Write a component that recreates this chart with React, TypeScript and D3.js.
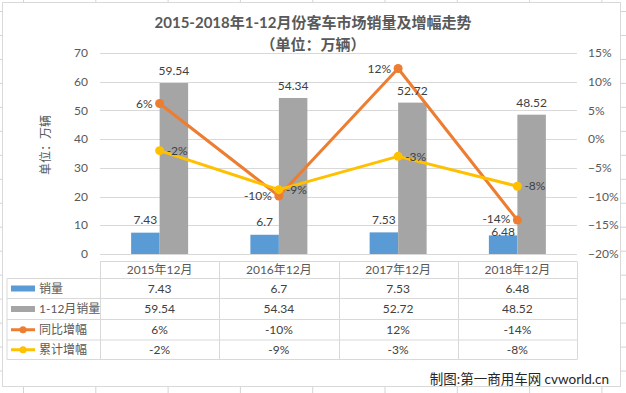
import React, { useRef, useEffect } from 'react';
import * as d3 from 'd3';

// chart data
const categories = ['2015年12月', '2016年12月', '2017年12月', '2018年12月'];
const monthSales = [7.43, 6.7, 7.53, 6.48];
const yearSales = [59.54, 54.34, 52.72, 48.52];
const yoyGrowth = [0.062, -0.099, 0.123, -0.141];
const cumGrowth = [-0.02, -0.088, -0.03, -0.082];
const yoyLabels = ['6%', '-10%', '12%', '-14%'];
const cumLabels = ['-2%', '-9%', '-3%', '-8%'];
const leftTicks = [0, 10, 20, 30, 40, 50, 60, 70];
const rightTicks = [-0.2, -0.15, -0.1, -0.05, 0, 0.05, 0.1, 0.15];
const seriesNames = ['销量', '1-12月销量', '同比增幅', '累计增幅'];

const W = 626;
const H = 393;
const FONT = "Lato, 'Noto Sans CJK SC', sans-serif";

const App = () => {
    const svgRef = useRef<SVGSVGElement>(null);

    useEffect(() => {
        if (!svgRef.current) return;
        const svg = d3.select(svgRef.current);
        svg.selectAll('*').remove();

        // spreadsheet grid behind the chart object
        const bg = svg.append('g');
        bg.append('rect').attr('width', W).attr('height', H).attr('fill', '#fff');
        for (let x = 23.5; x < W; x += 72.3) {
            bg.append('line').attr('x1', x).attr('x2', x).attr('y1', 0).attr('y2', H)
                .attr('stroke', '#d4d4d4');
        }
        for (let y = 11.5; y < H; y += 23.97) {
            bg.append('line').attr('x1', 0).attr('x2', W).attr('y1', y).attr('y2', y)
                .attr('stroke', '#d4d4d4');
        }

        // chart box
        svg.append('rect')
            .attr('x', 2.5).attr('y', 2.5)
            .attr('width', 618).attr('height', 384)
            .attr('fill', '#fff').attr('stroke', '#d9d9d9');

        const g = svg.append('g').style('font-family', FONT);

        // Scales
        const x = d3.scaleBand<string>().domain(categories).range([100, 577]);
        const yL = d3.scaleLinear().domain([0, 70]).range([254, 53]);
        const yR = d3.scaleLinear().domain([-0.2, 0.15]).range([254, 53]);
        const cx = (c: string) => (x(c) as number) + x.bandwidth() / 2;
        const barW = 28.5;

        // title
        g.append('text')
            .attr('x', 313).attr('y', 28)
            .attr('text-anchor', 'middle')
            .attr('font-size', 15).attr('font-weight', 'bold').attr('fill', '#595959')
            .text('2015-2018年1-12月份客车市场销量及增幅走势');
        g.append('text')
            .attr('x', 313).attr('y', 50)
            .attr('text-anchor', 'middle')
            .attr('font-size', 15).attr('font-weight', 'bold').attr('fill', '#595959')
            .text('（单位：万辆）');

        // gridlines
        g.selectAll('.grid')
            .data(leftTicks)
            .enter()
            .append('line')
            .attr('x1', 100).attr('x2', 577)
            .attr('y1', d => Math.round(yL(d)) + 0.5)
            .attr('y2', d => Math.round(yL(d)) + 0.5)
            .attr('stroke', '#d9d9d9');

        // axis labels
        g.selectAll('.ltick')
            .data(leftTicks)
            .enter()
            .append('text')
            .attr('x', 88).attr('y', d => yL(d))
            .attr('dy', '0.35em')
            .attr('text-anchor', 'end')
            .attr('font-size', 12).attr('fill', '#595959')
            .text(d => d);

        g.selectAll('.rtick')
            .data(rightTicks)
            .enter()
            .append('text')
            .attr('x', 588).attr('y', d => yR(d))
            .attr('dy', '0.35em')
            .attr('font-size', 12).attr('fill', '#595959')
            .text(d => d3.format('.0%')(d));

        g.append('text')
            .attr('transform', 'translate(50,145) rotate(-90)')
            .attr('text-anchor', 'middle')
            .attr('font-size', 12).attr('fill', '#595959')
            .text('单位：万辆');

        // bars
        g.selectAll('.bar1')
            .data(monthSales)
            .enter()
            .append('rect')
            .attr('x', (d, i) => cx(categories[i]) - barW)
            .attr('y', d => yL(d))
            .attr('width', barW)
            .attr('height', d => yL(0) - yL(d))
            .attr('fill', '#5b9bd5');

        g.selectAll('.bar2')
            .data(yearSales)
            .enter()
            .append('rect')
            .attr('x', (d, i) => cx(categories[i]))
            .attr('y', d => yL(d))
            .attr('width', barW)
            .attr('height', d => yL(0) - yL(d))
            .attr('fill', '#a5a5a5');

        // lines
        const drawLine = (vals: number[], color: string) => {
            const line = d3.line<number>()
                .x((d, i) => cx(categories[i]))
                .y(d => yR(d));
            g.append('path')
                .attr('d', line(vals))
                .attr('fill', 'none')
                .attr('stroke', color)
                .attr('stroke-width', 3)
                .attr('stroke-linejoin', 'round')
                .attr('stroke-linecap', 'round');
            g.selectAll(null)
                .data(vals)
                .enter()
                .append('circle')
                .attr('cx', (d, i) => cx(categories[i]))
                .attr('cy', d => yR(d))
                .attr('r', 4.5)
                .attr('fill', color);
        };
        drawLine(yoyGrowth, '#ed7d31');
        drawLine(cumGrowth, '#ffc000');

        // data labels
        const label = (tx: number, ty: number, txt: string, anchor = 'middle') =>
            g.append('text')
                .attr('x', tx).attr('y', ty)
                .attr('dy', '0.35em')
                .attr('text-anchor', anchor)
                .attr('font-size', 12).attr('fill', '#404040')
                .text(txt);

        monthSales.forEach((d, i) => {
            // the last label was dragged down in the original to clear the -14% label
            const off = i === monthSales.length - 1 ? 4 : 13;
            label(cx(categories[i]) - barW / 2, yL(d) - off, String(d));
        });
        yearSales.forEach((d, i) => label(cx(categories[i]) + barW / 2, yL(d) - 12, String(d)));
        yoyGrowth.forEach((d, i) => label(cx(categories[i]) - 7, yR(d) - (i === 3 ? 1 : 0), yoyLabels[i], 'end'));
        cumGrowth.forEach((d, i) => label(cx(categories[i]) + 7, yR(d), cumLabels[i], 'start'));

        // data table
        const rowY = [278.5, 298.5, 319.5, 340, 359.5];
        const colX = [100, ...categories.map(c => (x(c) as number) + x.bandwidth())];
        const tc = '#d9d9d9';
        g.append('line').attr('x1', 100).attr('x2', 577).attr('y1', 261.5).attr('y2', 261.5).attr('stroke', tc);
        rowY.forEach(y => {
            g.append('line').attr('x1', 7).attr('x2', 577).attr('y1', y).attr('y2', y).attr('stroke', tc);
        });
        g.append('line').attr('x1', 7).attr('x2', 7).attr('y1', rowY[0]).attr('y2', rowY[4]).attr('stroke', tc);
        colX.forEach(cxv => {
            g.append('line').attr('x1', Math.round(cxv) + 0.5).attr('x2', Math.round(cxv) + 0.5)
                .attr('y1', 261.5).attr('y2', rowY[4]).attr('stroke', tc);
        });

        categories.forEach(c => {
            g.append('text')
                .attr('x', cx(c)).attr('y', 270)
                .attr('dy', '0.35em')
                .attr('text-anchor', 'middle')
                .attr('font-size', 12).attr('fill', '#595959')
                .text(c);
        });

        const rows = [
            monthSales.map(String),
            yearSales.map(String),
            yoyLabels,
            cumLabels,
        ];
        const colors = ['#5b9bd5', '#a5a5a5', '#ed7d31', '#ffc000'];
        rows.forEach((r, ri) => {
            const my = (rowY[ri] + rowY[ri + 1]) / 2;
            r.forEach((t, ci) => label(cx(categories[ci]), my, t));
            if (ri < 2) {
                g.append('rect').attr('x', 11).attr('y', my - 3).attr('width', 24).attr('height', 6)
                    .attr('fill', colors[ri]);
            } else {
                g.append('line').attr('x1', 11).attr('x2', 35).attr('y1', my).attr('y2', my)
                    .attr('stroke', colors[ri]).attr('stroke-width', 3);
                g.append('circle').attr('cx', 23).attr('cy', my).attr('r', 3.5).attr('fill', colors[ri]);
            }
            g.append('text')
                .attr('x', 39).attr('y', my)
                .attr('dy', '0.35em')
                .attr('font-size', 12).attr('fill', '#595959')
                .text(seriesNames[ri]);
        });

        // credit
        g.append('text')
            .attr('x', 609).attr('y', 379)
            .attr('dy', '0.35em')
            .attr('text-anchor', 'end')
            .attr('font-size', 13.5).attr('fill', '#262626')
            .text('制图:第一商用车网 cvworld.cn');
    }, []);

    return (
        <svg ref={svgRef} width={W} height={H}
            style={{ position: 'absolute', left: 0, top: 0, display: 'block' }} />
    );
};

export default App;
